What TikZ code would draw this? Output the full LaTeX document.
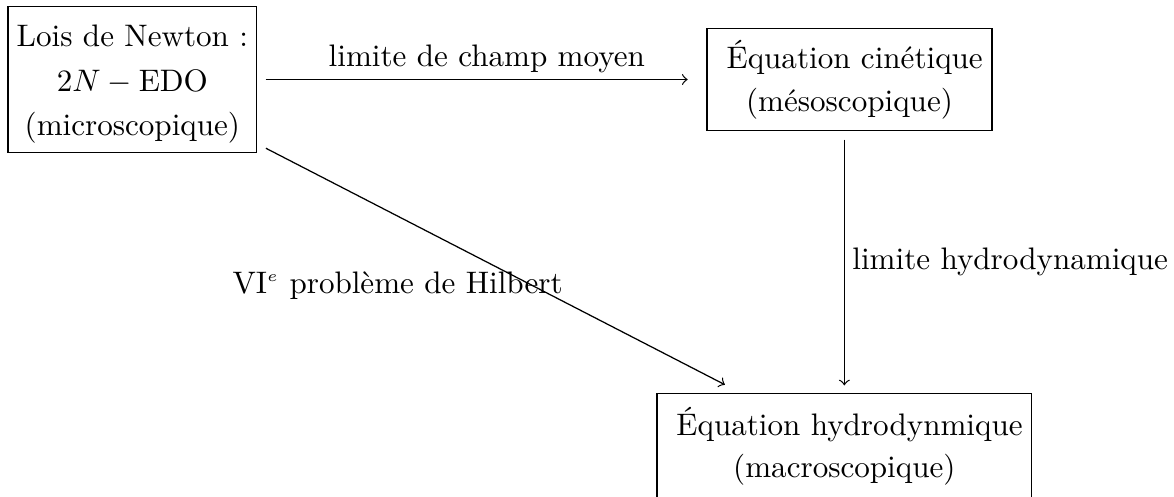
\documentclass[tikz,border=0pt]{standalone}
\usepackage{fontspec}
\tikzset{
  box/.style={draw, rectangle, inner sep=0pt, align=center, font=\fontsize{10pt}{13.7pt}\selectfont},
  conn/.style={->},
  lab/.style={inner sep=0pt, font=\fontsize{10pt}{12pt}\selectfont},
}
\begin{document}
\begin{tikzpicture}[x=0.3215pt, y=-0.3215pt]
\useasboundingbox (0,0) rectangle (1174,496);
\node[box, font=\fontsize{10pt}{14.3pt}\selectfont, minimum width=79.96pt, minimum height=47.04pt] (newton) at (132.35,79.5)
  {\rule{0pt}{10.1pt}Lois de Newton :\\ $2N-\mathrm{EDO}$\\ (microscopique)};
\node[box, minimum width=91.63pt, minimum height=32.95pt] (cin) at (849.5,79.5)
  {\hspace*{0.3333em}Équation cinétique\\ (mésoscopique)};
\node[box, minimum width=120.47pt, minimum height=34.08pt] (hydro) at (844.35,446.3)
  {\hspace*{0.3333em}Équation hydrodynmique\\ (macroscopique)};
\draw[conn, shorten <=2.67pt, shorten >=6pt] (newton) --
  node[lab, pos=0.511, anchor=base, yshift=4.34pt] (l1) {limite de champ moyen} (cin);
\draw[conn, shorten <=2.67pt, shorten >=2.35pt] (cin.south -| hydro.north) --
  node[lab, pos=0.527, anchor=base west, xshift=2.4pt] (l2) {limite hydrodynamique} (hydro.north);
\draw[conn, shorten <=3.1pt, shorten >=5.6pt] (newton) --
  node[lab, midway, anchor=base, xshift=-32.55pt, yshift=-7.99pt] (l3) {VI$^{\scriptscriptstyle e}$ problème de Hilbert} (hydro);
\end{tikzpicture}
\end{document}
